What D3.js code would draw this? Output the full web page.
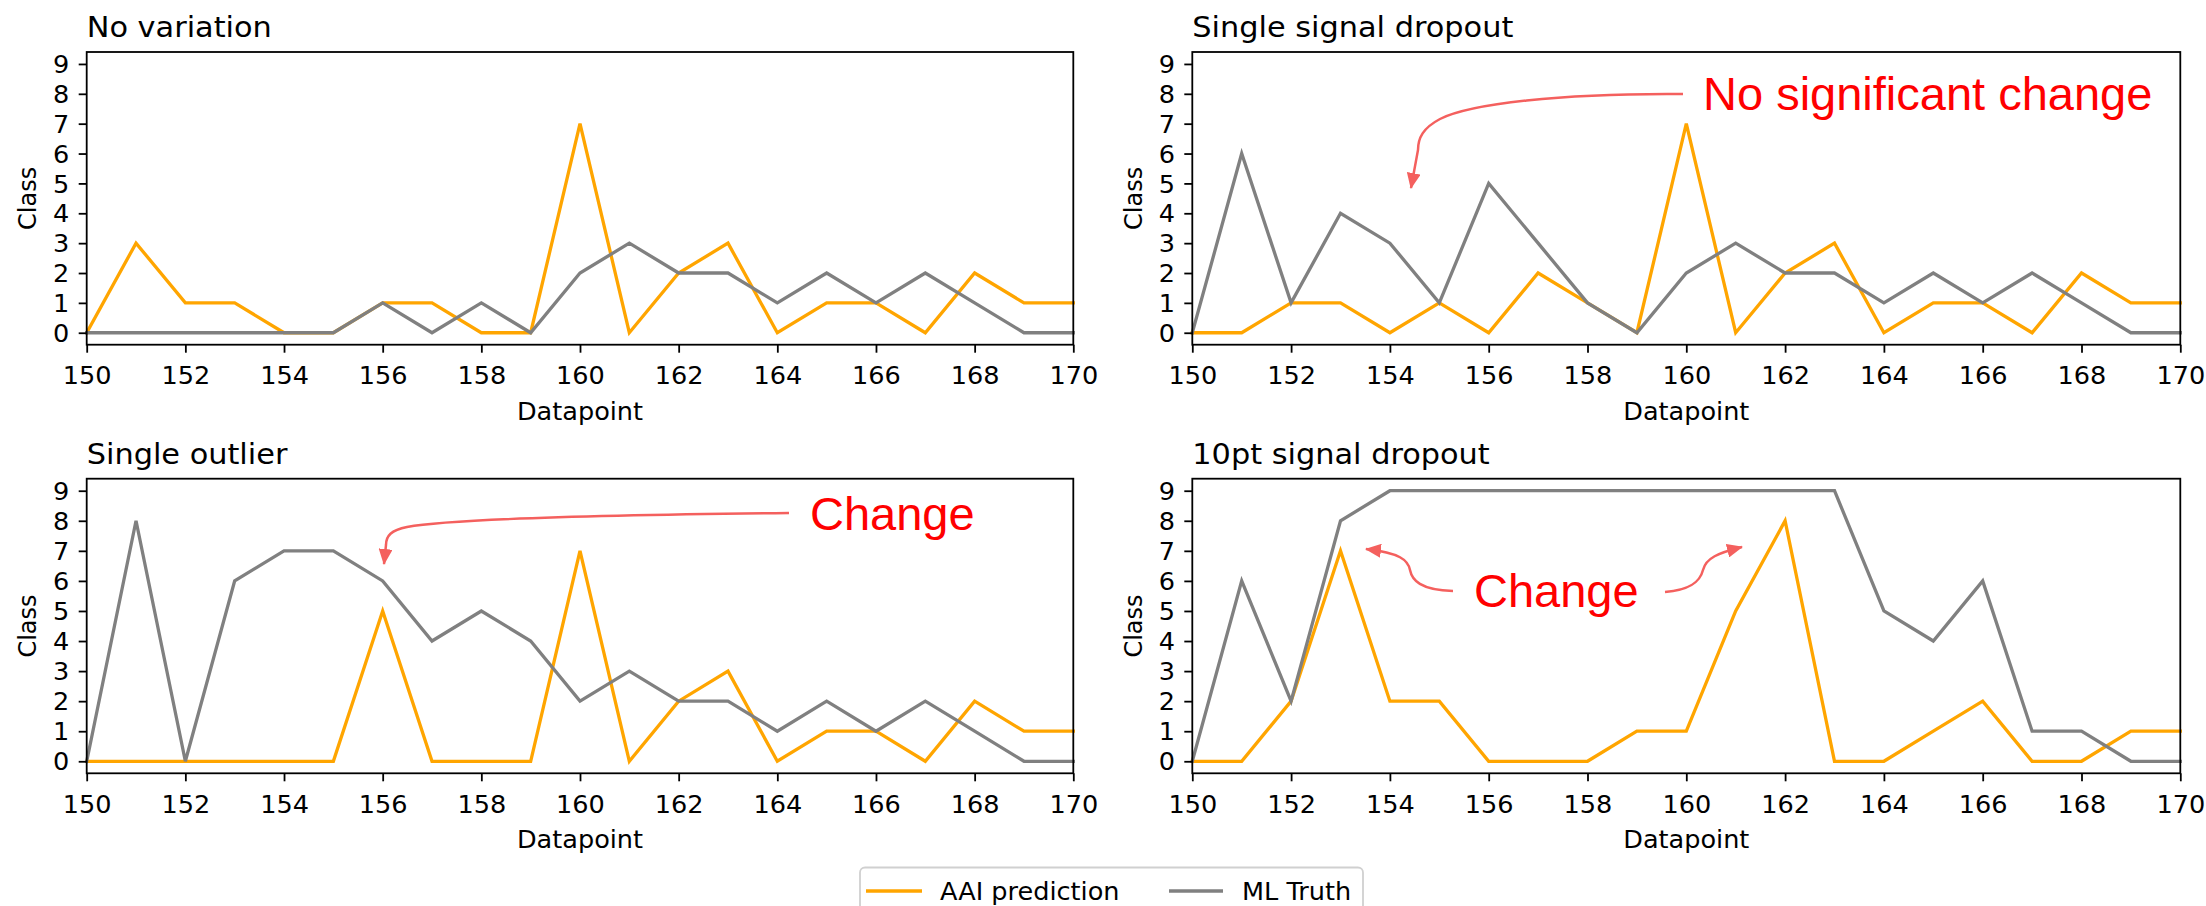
<!DOCTYPE html>
<html><head><meta charset="utf-8">
<script src="https://cdn.jsdelivr.net/npm/d3@7"></script>
<style>
html,body{margin:0;padding:0;background:#fff;}
svg{display:block;}
</style></head><body>
<svg id="chart" width="2206" height="906"></svg>
<script>
// ---------------- data ----------------
const datapoints = [150,151,152,153,154,155,156,157,158,159,160,161,162,163,164,165,166,167,168,169,170];
const xTickValues = [150,152,154,156,158,160,162,164,166,168,170];
const yTickValues = [0,1,2,3,4,5,6,7,8,9];
const panelTitles = ["No variation","Single signal dropout","Single outlier","10pt signal dropout"];
const seriesNames = ["AAI prediction","ML Truth"];
const seriesColors = ["#ffa500","#808080"];

const aaiNoVariation      = [0,3,1,1,0,0,1,1,0,0,7,0,2,3,0,1,1,0,2,1,1];
const truthNoVariation    = [0,0,0,0,0,0,1,0,1,0,2,3,2,2,1,2,1,2,1,0,0];
const aaiSingleDropout    = [0,0,1,1,0,1,0,2,1,0,7,0,2,3,0,1,1,0,2,1,1];
const truthSingleDropout  = [0,6,1,4,3,1,5,3,1,0,2,3,2,2,1,2,1,2,1,0,0];
const aaiSingleOutlier    = [0,0,0,0,0,0,5,0,0,0,7,0,2,3,0,1,1,0,2,1,1];
const truthSingleOutlier  = [0,8,0,6,7,7,6,4,5,4,2,3,2,2,1,2,1,2,1,0,0];
const aai10ptDropout      = [0,0,2,7,2,2,0,0,0,1,1,5,8,0,0,1,2,0,0,1,1];
const truth10ptDropout    = [0,6,2,8,9,9,9,9,9,9,9,9,9,9,5,4,6,1,1,0,0];

const panelSeries = [
  [aaiNoVariation, truthNoVariation],
  [aaiSingleDropout, truthSingleDropout],
  [aaiSingleOutlier, truthSingleOutlier],
  [aai10ptDropout, truth10ptDropout]
];

// ---------------- layout ----------------
const cols = [[86.7,1073.3],[1192.3,2180.3]];
const rows = [[52,344.7],[478.7,773.3]];
const FONT = "'DejaVu Sans', sans-serif";
const FS = 24, SX = 1.065, TITLE_FS = 28.5;
const RED = "#ff0000", ARROW = "#f4605e";

const svg = d3.select("#chart");
svg.append("rect").attr("width",2206).attr("height",906).attr("fill","#fff");

const defs = svg.append("defs");
defs.append("marker").attr("id","ah")
  .attr("markerUnits","userSpaceOnUse")
  .attr("markerWidth",18).attr("markerHeight",14)
  .attr("refX",15).attr("refY",7).attr("orient","auto")
  .append("path").attr("d","M0,0 L16,7 L0,14 Z").attr("fill",ARROW);

panelTitles.forEach((title,i)=>{
  const c = i%2, r = Math.floor(i/2);
  const [x0,x1] = cols[c], [y0,y1] = rows[r];
  const x = d3.scaleLinear().domain([150,170]).range([x0,x1]);
  const y = d3.scaleLinear().domain([-0.4,9.4]).range([y1,y0]);
  const g = svg.append("g");

  // series lines
  const line = d3.line().x((d,k)=>x(datapoints[k])).y(d=>y(d));
  panelSeries[i].forEach((vals,s)=>{
    g.append("path").datum(vals)
      .attr("d",line).attr("fill","none")
      .attr("stroke",seriesColors[s]).attr("stroke-width",3.3)
      .attr("stroke-linejoin","miter").attr("stroke-linecap","square");
  });

  // frame
  g.append("rect").attr("x",x0).attr("y",y0).attr("width",x1-x0).attr("height",y1-y0)
    .attr("fill","none").attr("stroke","#000").attr("stroke-width",1.8);

  // x axis
  const xa = g.append("g").attr("transform",`translate(0,${y1})`)
    .call(d3.axisBottom(x).tickValues(xTickValues).tickSize(8).tickFormat(d3.format("d")));
  xa.select(".domain").remove();
  xa.selectAll(".tick line").attr("stroke","#000").attr("stroke-width",1.8);
  xa.selectAll(".tick text").attr("y",39.5).attr("dy",null)
    .attr("font-family",FONT).attr("font-size",FS).attr("fill","#000")
    .attr("transform",`scale(${SX},1)`);

  // y axis
  const ya = g.append("g").attr("transform",`translate(${x0},0)`)
    .call(d3.axisLeft(y).tickValues(yTickValues).tickSize(8).tickFormat(d3.format("d")));
  ya.select(".domain").remove();
  ya.selectAll(".tick line").attr("stroke","#000").attr("stroke-width",1.8);
  ya.selectAll(".tick text").attr("x",-17.4/SX).attr("dy","0.36em")
    .attr("font-family",FONT).attr("font-size",FS).attr("fill","#000")
    .attr("transform",`scale(${SX},1)`);

  // axis labels
  svg.append("text").attr("transform",`translate(${(x0+x1)/2},${y1+75}) scale(${SX},1)`)
    .attr("text-anchor","middle").attr("font-family",FONT).attr("font-size",FS)
    .attr("fill","#000").text("Datapoint");
  svg.append("text").attr("transform",`translate(${x0-50.5},${(y0+y1)/2}) rotate(-90) scale(1,${SX})`)
    .attr("text-anchor","middle").attr("font-family",FONT).attr("font-size",FS)
    .attr("fill","#000").text("Class");

  // title
  svg.append("text").attr("transform",`translate(${x0},${y0-15}) scale(${SX},1)`)
    .attr("font-family",FONT).attr("font-size",TITLE_FS).attr("fill","#000").text(title);
});

// ---------------- annotations ----------------
const annoTexts = [
  {text:"No significant change", x:1703, y:110},
  {text:"Change", x:810, y:530},
  {text:"Change", x:1474, y:606.5}
];
const annoArrows = [
  "M1683,94 C1560,93 1470,104 1440,119 C1423,128 1418,138 1418,150 L1411,188",
  "M789,513 C600,515 450,519 407,527 C391,530 386,536 386,545 L384,564",
  "M1453,591 C1420,590 1412,580 1410,570 C1408,560 1400,553 1366,549",
  "M1665,592 C1690,590 1700,582 1703,570 C1706,558 1718,553 1742,547"
];
annoTexts.forEach(a=>{
  svg.append("text").attr("x",a.x).attr("y",a.y)
    .attr("font-family","'Liberation Sans', Arial, sans-serif").attr("font-size",47)
    .attr("fill",RED).text(a.text);
});
annoArrows.forEach(d=>{
  svg.append("path").attr("d",d).attr("fill","none")
    .attr("stroke",ARROW).attr("stroke-width",2.5).attr("marker-end","url(#ah)");
});

// ---------------- legend ----------------
const lg = svg.append("g");
lg.append("rect").attr("x",860).attr("y",867.5).attr("width",503).attr("height",48).attr("rx",5)
  .attr("fill","#fff").attr("stroke","#d0d0d0").attr("stroke-width",1.8);
const legendItems = [{lx:[866,922], tx:940},{lx:[1169,1223], tx:1242}];
seriesNames.forEach((name,s)=>{
  const it = legendItems[s];
  lg.append("line").attr("x1",it.lx[0]).attr("x2",it.lx[1]).attr("y1",891).attr("y2",891)
    .attr("stroke",seriesColors[s]).attr("stroke-width",3.3);
  lg.append("text").attr("transform",`translate(${it.tx},900) scale(${SX},1)`)
    .attr("font-family",FONT).attr("font-size",FS).attr("fill","#000").text(name);
});
</script>
</body></html>
